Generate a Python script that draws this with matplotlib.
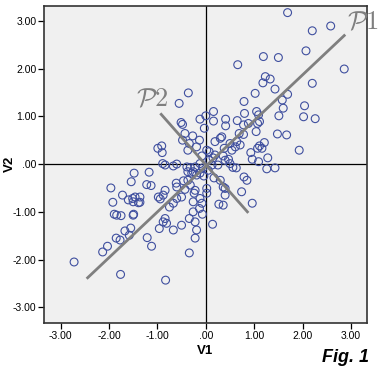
import matplotlib
matplotlib.use("Agg")
import matplotlib.pyplot as plt

plt.rcParams['font.family'] = ['Liberation Sans', 'DejaVu Sans']

# scatter points (V1, V2)
v1 = [1.69, 2.20, 2.58, 2.07, 2.86, 1.19, 1.50, 0.66, 1.23, 1.33,
      1.18, 1.43, 2.20, 1.02, 0.79, 1.69, 1.58, 1.60, 2.04, 2.02,
      2.26, 1.51, 0.80, 1.05, 1.09, 1.48, 1.67, 1.93, 0.16, 0.16,
      -0.12, -0.03, 0.41, 0.41, 0.65, 0.78, 0.88, 1.11, 1.07, 1.04,
      0.69, 0.78, 0.33, 0.64, 0.71, 0.61, 0.54, 0.50, 1.21, 1.11,
      1.16, 1.07, 0.93, 1.28, 0.96, 1.09, 0.47, 0.50, 0.36, 0.56,
      0.63, 1.26, 1.43, 0.79, 0.85, 0.30, 0.74, 0.40, 0.40, 0.36,
      0.96, 0.27, 0.14, -0.36, -0.55, 0.00, 0.30, 0.19, -0.51, -0.48,
      -0.43, -0.27, -0.48, -0.13, -0.34, -0.19, -0.99, -0.91, -0.90, -0.37,
      0.02, 0.07, 0.38, 0.19, -0.08, -0.89, -0.84, -0.60, -0.67, -0.39,
      -0.32, -0.22, -0.12, 0.07, 0.15, 0.25, -1.17, -0.26, -0.19, -0.12,
      0.36, -1.22, -1.13, -0.61, -0.60, -0.46, -0.37, -0.32, -0.43, -0.84,
      -0.88, -0.98, -0.94, -0.22, -0.24, 0.02, 0.02, -1.36, -1.36, -0.50,
      -0.60, -0.67, -0.26, -0.12, -0.08, -0.75, -0.13, -0.26, -0.07, -0.34,
      -0.84, -0.88, -0.81, -0.50, -0.96, -0.67, -0.19, -0.22, -1.21, -1.12,
      -0.34, -0.83, -1.48, -1.54, -1.96, -1.72, -1.92, -1.60, -1.51, -1.46,
      -1.39, -1.50, -1.89, -1.84, -1.75, -1.50, -1.49, -1.55, -1.67, -1.58,
      -1.85, -1.77, -2.03, -2.13, -2.72, -1.76, -0.22, -0.06, 0.05, 0.13,
      0.40, -0.04, 0.17, -0.37, -0.29]
v2 = [3.17, 2.79, 2.89, 2.37, 1.99, 2.25, 2.23, 2.08, 1.83, 1.78,
      1.70, 1.57, 1.69, 1.48, 1.31, 1.46, 1.34, 1.17, 1.22, 0.99,
      0.95, 1.01, 1.06, 1.10, 1.03, 0.63, 0.61, 0.29, 1.10, 0.90,
      0.94, 0.75, 0.94, 0.80, 0.91, 0.82, 0.85, 0.89, 0.85, 0.68,
      0.64, 0.62, 0.57, 0.47, 0.40, 0.36, 0.29, 0.43, 0.45, 0.38,
      0.33, 0.33, 0.24, 0.13, 0.10, 0.05, 0.10, 0.01, 0.17, -0.07,
      -0.08, -0.10, -0.08, -0.27, -0.34, -0.34, -0.58, -0.51, -0.65, -0.86,
      -0.82, -0.84, -1.26, 1.49, 1.27, 1.01, 0.54, 0.47, 0.87, 0.83,
      0.64, 0.59, 0.50, 0.50, 0.43, 0.36, 0.33, 0.38, 0.24, 0.29,
      0.29, 0.26, 0.33, 0.19, 0.17, 0.01, -0.02, 0.00, -0.04, -0.06,
      -0.07, -0.06, 0.01, 0.08, 0.13, -0.02, -0.17, -0.16, -0.23, -0.19,
      -0.48, -0.43, -0.45, -0.40, -0.48, -0.35, -0.34, -0.44, -0.53, -0.55,
      -0.65, -0.69, -0.73, -0.55, -0.61, -0.51, -0.61, -0.69, -0.80, -0.69,
      -0.72, -0.82, -0.79, -0.72, -0.82, -0.90, -0.93, -1.00, -1.05, -1.14,
      -1.14, -1.21, -1.24, -1.28, -1.35, -1.38, -1.38, -1.55, -1.54, -1.72,
      -1.86, -2.43, -0.19, -0.37, -0.50, -0.65, -0.80, -0.75, -0.72, -0.69,
      -0.81, -0.79, -1.05, -1.07, -1.08, -1.07, -1.05, -1.34, -1.40, -1.49,
      -1.55, -1.59, -1.72, -1.84, -2.05, -2.31, -1.21, -0.08, -0.13, -0.02,
      0.08, -0.25, -0.29, -0.16, -0.19]

# principal axis segments
p1_x = [-2.44, 2.86]
p1_y = [-2.38, 2.69]
p2_x = [-0.92, 0.86]
p2_y = [1.04, -1.00]

ticks = [-3, -2, -1, 0, 1, 2, 3]
tick_labels = ['-3.00', '-2.00', '-1.00', '.00', '1.00', '2.00', '3.00']

fig = plt.figure(figsize=(3.9, 3.71), dpi=100)
ax = fig.add_axes([0.113, 0.129, 0.828, 0.855])
ax.set_facecolor('#f0f0f0')

ax.axhline(0, color='black', linewidth=0.9, zorder=1)
ax.axvline(0, color='black', linewidth=0.9, zorder=1)

ax.scatter(v1, v2, s=32, facecolors='none', edgecolors='#3f4f9f',
           linewidths=0.8, zorder=2)

ax.plot(p1_x, p1_y, color='#7f7f7f', linewidth=2.0, zorder=3)
ax.plot(p2_x, p2_y, color='#7f7f7f', linewidth=2.0, zorder=3)

ax.text(3.25, 2.96, r'$\mathcal{P}1$', math_fontfamily='cm', color='#7f7f7f',
        fontsize=19, ha='center', va='center', clip_on=False)
ax.text(-1.11, 1.36, r'$\mathcal{P}2$', math_fontfamily='cm', color='#7f7f7f',
        fontsize=19, ha='center', va='center')

ax.set_xlim(-3.34, 3.33)
ax.set_ylim(-3.33, 3.31)
ax.set_xticks(ticks)
ax.set_xticklabels(tick_labels)
ax.set_yticks(ticks)
ax.set_yticklabels(tick_labels)
ax.tick_params(direction='out', length=4, width=0.9, labelsize=7.5, pad=1.5)

for side in ax.spines.values():
    side.set_color('#333333')
    side.set_linewidth(1.2)

ax.set_xlabel('V1', fontsize=9.5, fontweight='bold', labelpad=3)
fig.text(10 / 390, 1 - 164 / 371, 'V2', fontsize=9.5, fontweight='bold',
         rotation=90, ha='center', va='center')

fig.text(0.945, 0.037, 'Fig. 1', fontsize=13, fontweight='bold',
         fontstyle='italic', ha='right', va='center')

fig.savefig('out.png', dpi=100)
